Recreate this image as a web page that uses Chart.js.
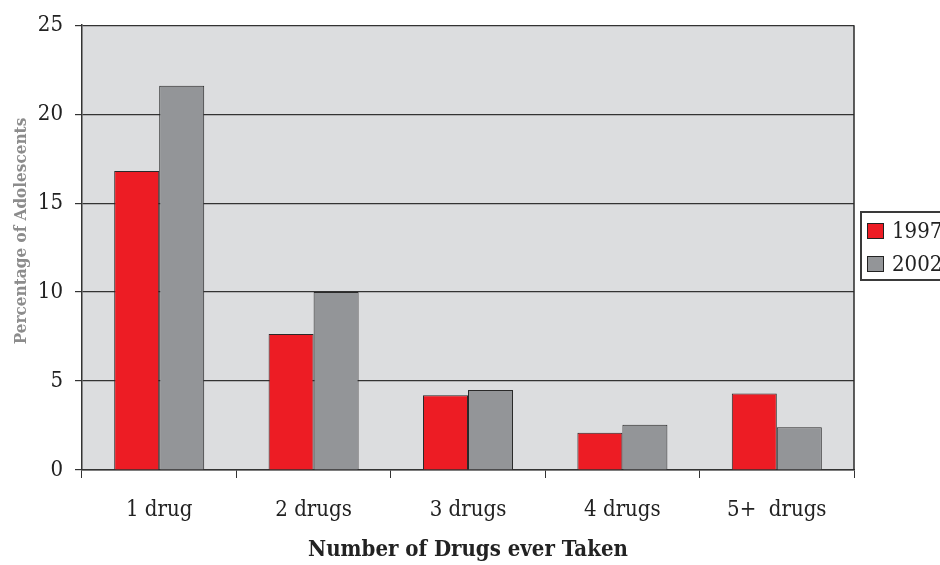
<!DOCTYPE html>
<html>
<head>
<meta charset="utf-8">
<script src="https://cdn.jsdelivr.net/npm/chart.js@4"></script>
<style>
  html, body { margin: 0; padding: 0; background: #fff; }
  #wrap { width: 940px; height: 565px; }
</style>
</head>
<body>
<div id="wrap"><canvas id="drugs-chart" width="940" height="565"></canvas></div>
<script>
var categories = ["1 drug", "2 drugs", "3 drugs", "4 drugs", "5+  drugs"];
var values1997 = [16.8, 7.65, 4.2, 2.1, 4.3];
var values2002 = [21.6, 10.0, 4.5, 2.55, 2.4];
var seriesLabels = ["1997", "2002"];
var yTicks = [0, 5, 10, 15, 20, 25];
var yTitle = "Percentage of Adolescents";

var serif = "'DejaVu Serif Condensed', 'DejaVu Serif', serif";

// grey plot background, right border, y title
var plotFrame = {
  id: "plotFrame",
  beforeDraw: function (chart) {
    var a = chart.chartArea, ctx = chart.ctx;
    ctx.save();
    ctx.fillStyle = "#dcdddf";
    ctx.fillRect(a.left, a.top, a.right - a.left, a.bottom - a.top);
    ctx.restore();
  },
  afterDraw: function (chart) {
    var a = chart.chartArea, ctx = chart.ctx;
    ctx.save();
    ctx.strokeStyle = "#2a2a2a";
    ctx.lineWidth = 1.5;
    ctx.beginPath();
    ctx.moveTo(a.right, a.top);
    ctx.lineTo(a.right, a.bottom);
    ctx.stroke();
    // rotated axis title, sits a bit above the plot centre like the original
    ctx.translate(22, 231);
    ctx.rotate(-Math.PI / 2);
    ctx.font = "bold 17px " + serif;
    ctx.fillStyle = "#8c8c8c";
    ctx.textAlign = "center";
    ctx.textBaseline = "middle";
    ctx.fillText(yTitle, 0, 0);
    ctx.restore();
  }
};

// boxed legend at the right edge
var boxLegend = {
  id: "boxLegend",
  afterDraw: function (chart) {
    var ctx = chart.ctx;
    var x = 861, y = 212, h = 68;
    ctx.save();
    ctx.strokeStyle = "#3a3a3a";
    ctx.lineWidth = 2;
    ctx.strokeRect(x, y, 100, h);
    ctx.font = "22px " + serif;
    ctx.textBaseline = "middle";
    chart.data.datasets.forEach(function (ds, i) {
      var sy = 223 + i * 33;
      ctx.fillStyle = ds.backgroundColor;
      ctx.fillRect(x + 6, sy, 17, 16);
      ctx.lineWidth = 1;
      ctx.strokeStyle = "#222";
      ctx.strokeRect(x + 6.5, sy + 0.5, 16, 15);
      ctx.fillStyle = "#222";
      ctx.fillText(ds.label, x + 31, sy + 9);
    });
    ctx.restore();
  }
};

var config = {
  type: "bar",
  data: {
    labels: categories,
    datasets: [
      {
        label: seriesLabels[0],
        data: values1997,
        backgroundColor: "#ed1c24",
        borderColor: "#2a2a2a",
        borderWidth: 1
      },
      {
        label: seriesLabels[1],
        data: values2002,
        backgroundColor: "#939598",
        borderColor: "#2a2a2a",
        borderWidth: 1
      }
    ]
  },
  options: {
    responsive: false,
    animation: false,
    devicePixelRatio: 1,
    layout: { padding: { top: 22, right: 86, left: 0, bottom: 0 } },
    datasets: {
      bar: { categoryPercentage: 0.583, barPercentage: 1.0 }
    },
    plugins: {
      legend: { display: false },
      tooltip: { enabled: false }
    },
    scales: {
      x: {
        grid: {
          offset: true,
          drawOnChartArea: false,
          drawTicks: true,
          tickLength: 8,
          color: "#333"
        },
        border: { color: "#333", width: 1.5 },
        ticks: {
          padding: 19,
          color: "#222",
          font: { size: 22, family: serif }
        },
        title: {
          display: true,
          text: "Number of Drugs ever Taken",
          color: "#222",
          padding: { top: 0, bottom: 2 },
          font: { size: 22, weight: "bold", family: serif }
        },
        afterFit: function (scale) { scale.height = 95; }
      },
      y: {
        min: 0,
        max: 25,
        afterBuildTicks: function (scale) {
          scale.ticks = yTicks.map(function (v) { return { value: v }; });
        },
        grid: {
          color: "#333",
          lineWidth: 1.2,
          tickLength: 7
        },
        border: { color: "#333", width: 1.5 },
        ticks: {
          padding: 12,
          color: "#222",
          font: { size: 22, family: serif }
        },
        afterFit: function (scale) { scale.width = 82; }
      }
    }
  },
  plugins: [plotFrame, boxLegend]
};

var ctx = document.getElementById("drugs-chart").getContext("2d");
window.drugsChart = new Chart(ctx, config);
</script>
</body>
</html>
